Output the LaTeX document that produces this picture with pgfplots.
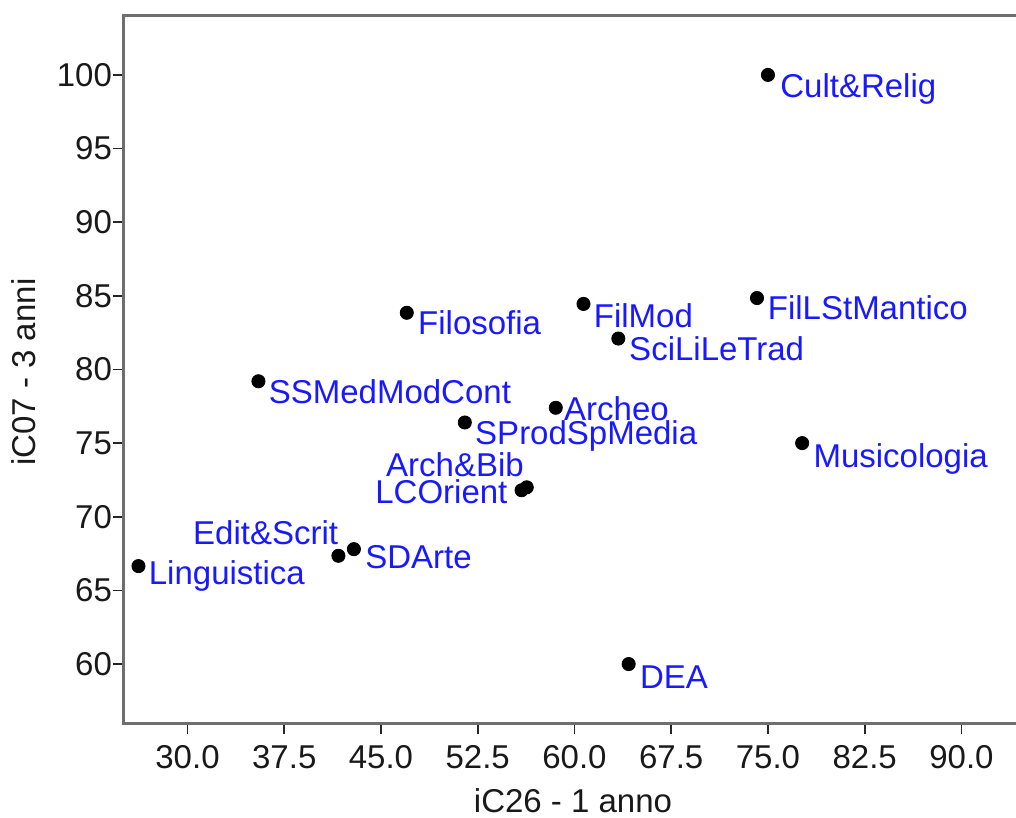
\documentclass[border=0pt]{standalone}
\usepackage{fontspec}
\setmainfont{Liberation Sans}
\usepackage{pgfplots}
\pgfplotsset{compat=1.18}
\usepackage{pgfplotstable}
\definecolor{lblblue}{RGB}{25,25,255}
\definecolor{axgray}{RGB}{110,110,110}

% labels right of and below the point
\pgfplotstableread{
x y dx dy label
75.0 100.0 6 -11.5 Cult\&Relig
74.15 84.85 5.25 -10.5 FilLStMantico
60.7 84.45 5 -12 FilMod
47.0 83.85 5.5 -11 Filosofia
63.4 82.1 5.25 -11 SciLiLeTrad
35.5 79.2 5 -11 SSMedModCont
58.55 77.4 4 -6.2 Archeo
51.5 76.4 5 -11 SProdSpMedia
77.65 75.0 5.5 -12 Musicologia
42.9 67.8 5.5 -9.6 SDArte
26.2 66.65 5 -9.2 Linguistica
64.2 60.0 5.5 -12 DEA
}\rightlabels

% labels left of and above/below the point
\pgfplotstableread{
x y dx dy label
56.3 72.0 -1.3 5.6 Arch\&Bib
55.9 71.8 -6.9 -6.6 LCOrient
41.7 67.35 0 5.4 Edit\&Scrit
}\leftlabels

\begin{document}
\begin{tikzpicture}
\useasboundingbox (0,0) rectangle (508pt,409pt);
\begin{axis}[
  at={(61.5pt,47pt)}, anchor=south west,
  scale only axis, width=456.5pt, height=354pt,
  xmin=25, xmax=95.78, ymin=55.93, ymax=104,
  clip=false,
  axis line style={axgray, line width=1.5pt},
  tick align=outside, tick pos=left,
  major tick length=5pt,
  tick style={black!85, line width=0.8pt},
  xtick={30,37.5,45,52.5,60,67.5,75,82.5,90},
  ytick={60,65,70,75,80,85,90,95,100},
  x tick label style={/pgf/number format/fixed, /pgf/number format/fixed zerofill, /pgf/number format/precision=1, yshift=-2pt},
  y tick label style={/pgf/number format/fixed, /pgf/number format/precision=0, xshift=3pt},
  /pgf/number format/assume math mode=true,
  /pgf/number format/1000 sep={},
  tick label style={font=\fontsize{16.5}{19}\selectfont, black!90},
  label style={font=\fontsize{16.5}{19}\selectfont, black!90},
  xlabel={iC26 - 1 anno},
  ylabel={iC07 - 3 anni},
  xlabel style={at={(axis description cs:0.4929,-0.1257)}, anchor=base},
  ylabel style={at={(axis description cs:-0.1084,0.497)}, anchor=center},
  only marks,
  mark=*, mark size=3.3pt,
  point meta=explicit symbolic,
  nodes near coords,
  visualization depends on={\thisrow{dx} \as \dx},
  visualization depends on={\thisrow{dy} \as \dy},
]
\addplot[black, mark options={black},
  nodes near coords style={anchor=base west, inner sep=0pt, xshift=\dx pt, yshift=\dy pt, text=lblblue, font=\fontsize{16.5}{19}\selectfont}]
  table[x=x, y=y, meta=label] {\rightlabels};
\addplot[black, mark options={black},
  nodes near coords style={anchor=base east, inner sep=0pt, xshift=\dx pt, yshift=\dy pt, text=lblblue, font=\fontsize{16.5}{19}\selectfont}]
  table[x=x, y=y, meta=label] {\leftlabels};
\end{axis}
\end{tikzpicture}
\end{document}
